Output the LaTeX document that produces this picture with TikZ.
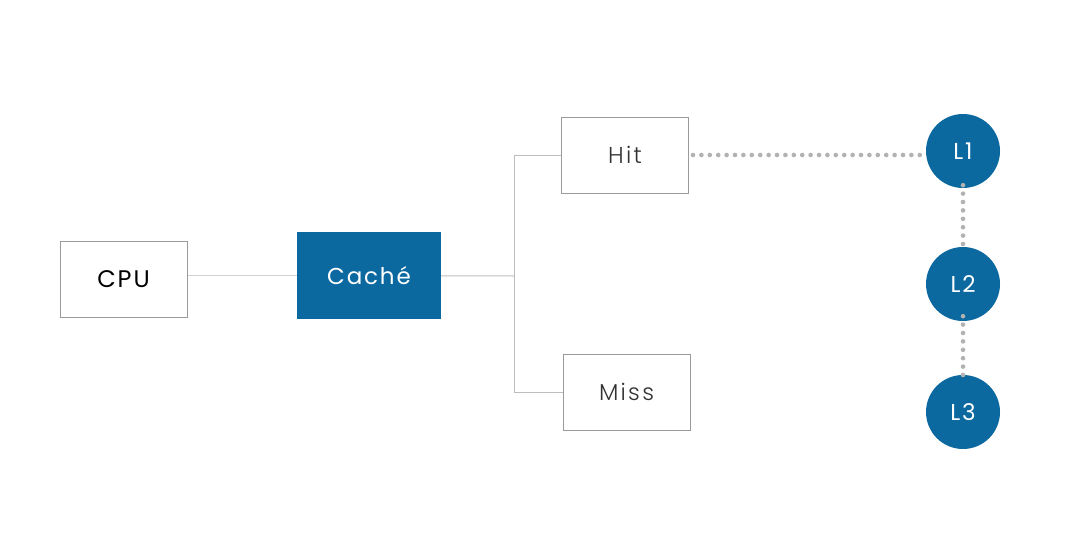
\documentclass[tikz,border=0pt]{standalone}
\usepackage{fontspec}
\setmainfont{Poppins}[LetterSpace=8]
\newfontfamily\lightfont{Poppins Light}[LetterSpace=10]
\usetikzlibrary{positioning}

\definecolor{cacheblue}{HTML}{0C69A0}
\definecolor{boxgray}{HTML}{9A9A9A}
\definecolor{linegray}{HTML}{BDBDBD}
\definecolor{dotgray}{HTML}{B2B2B2}
\definecolor{textgray}{HTML}{333333}

\tikzset{
	whitebox/.style={draw=boxgray, line width=1pt, fill=white, minimum width=127pt, minimum height=76pt, inner sep=0pt},
	bluebox/.style={fill=cacheblue, text=white, minimum width=144pt, minimum height=87pt, inner sep=0pt},
	level/.style={circle, fill=cacheblue, text=white, minimum size=74pt, inner sep=0pt},
	wire/.style={draw=linegray, line width=1pt},
	dots/.style={draw=dotgray, line width=4.6pt, line cap=round, dash pattern=on 0pt off 8.4pt}
}

\begin{document}
\begin{tikzpicture}[x=1pt, y=-1pt]
	\useasboundingbox (0,0) rectangle (1070,554);

	\node (cpu) [whitebox, font=\fontsize{24}{28}\selectfont] at (123.5,279.5) {CPU};
	\node (cache) [bluebox, font=\fontsize{23}{28}\selectfont] at (369,275.5) {Caché};
	\node (hit) [whitebox, text=textgray, font=\lightfont\fontsize{23}{28}\selectfont] at (625,155) {Hit};
	\node (miss) [whitebox, text=textgray, font=\lightfont\fontsize{23}{28}\selectfont] at (626.5,392) {Miss};

	\node (l1) [level, font=\fontsize{23}{28}\selectfont] at (963,151) {L1};
	\node (l2) [level, font=\fontsize{23}{28}\selectfont] at (963,284) {L2};
	\node (l3) [level, font=\fontsize{23}{28}\selectfont] at (963,412) {L3};

	% Branching lines
	\coordinate (split) at (514,276);
	\draw [wire, draw=black!18] (cpu.east |- cache) -- (cache);
	\draw [wire] (cache) -- (split);
	\draw [wire] (split) |- (hit.west);
	\draw [wire] (split) |- (miss.west);

	% Dotted links
	\draw [dots] ([xshift=4pt]hit.east) -- ([xshift=-2pt]l1.west |- hit.east);
	\draw [dots] ([yshift=3pt]l1.south) -- ([yshift=-4pt]l2.north);
	\draw [dots] ([yshift=5pt]l2.south) -- ([yshift=-4pt]l3.north);

\end{tikzpicture}
\end{document}
